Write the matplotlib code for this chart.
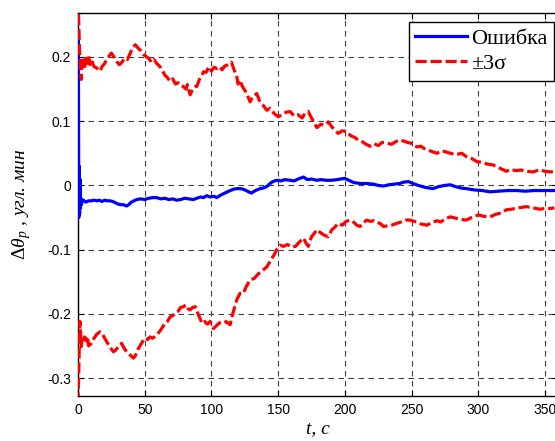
import matplotlib
matplotlib.use('Agg')
from matplotlib import pyplot as plt

# ошибка оценки и границы +-3 sigma
t_up = [0, 0.5, 1.0, 1.5, 2.0, 2.5, 3.0, 4, 5, 6, 7, 8, 9, 10, 12, 14, 16.5, 18, 20, 22, 25, 27, 29, 31,
        33, 35, 37, 39, 41, 43, 45, 47, 49, 51.5, 53, 55, 57, 59, 61.5, 63, 65, 67, 69, 71, 73, 75, 77,
        79, 81, 82, 84, 86, 88, 89, 91, 93, 94, 96, 98, 100, 102, 104, 106, 108, 110, 112.5, 115, 117,
        119, 120, 121.5, 123, 126.5, 129, 131, 134, 136, 138, 141.5, 144, 147, 150, 153, 156, 159, 162,
        165, 168, 170, 172.6, 175, 177, 179, 182, 185, 187.6, 190, 193, 195, 198, 201.4, 204, 207, 210,
        213, 216, 219, 222, 225, 228, 231.5, 235, 238, 241.4, 244, 247, 249, 251.4, 254, 257, 259, 262,
        265, 269, 272.6, 276, 279, 283, 287.6, 291, 295, 299, 303, 307, 311, 315, 318, 321, 324, 328,
        332, 336, 341, 344, 346.3, 350, 354, 357]
sig_up = [0.30, 0.26, 0.22, 0.197, 0.18, 0.165, 0.19, 0.20, 0.185, 0.198, 0.19, 0.202, 0.188, 0.196,
          0.185, 0.183, 0.178, 0.185, 0.19, 0.198, 0.206, 0.20, 0.193, 0.188, 0.192, 0.198, 0.196, 0.205,
          0.215, 0.219, 0.214, 0.21, 0.204, 0.20, 0.198, 0.192, 0.196, 0.19, 0.185, 0.18, 0.172, 0.168,
          0.162, 0.166, 0.158, 0.16, 0.155, 0.154, 0.15, 0.157, 0.141, 0.15, 0.154, 0.154, 0.165, 0.172,
          0.177, 0.176, 0.185, 0.178, 0.184, 0.182, 0.185, 0.18, 0.186, 0.188, 0.192, 0.18, 0.169, 0.158,
          0.164, 0.155, 0.143, 0.13, 0.138, 0.143, 0.132, 0.127, 0.117, 0.12, 0.112, 0.107, 0.11, 0.114,
          0.115, 0.108, 0.11, 0.105, 0.112, 0.115, 0.105, 0.098, 0.09, 0.095, 0.094, 0.099, 0.092, 0.085,
          0.081, 0.085, 0.084, 0.078, 0.075, 0.071, 0.068, 0.064, 0.061, 0.065, 0.062, 0.067, 0.066,
          0.064, 0.068, 0.071, 0.069, 0.067, 0.066, 0.063, 0.06, 0.061, 0.058, 0.055, 0.053, 0.05, 0.054,
          0.052, 0.05, 0.048, 0.05, 0.045, 0.042, 0.037, 0.036, 0.033, 0.032, 0.028, 0.025, 0.022, 0.025,
          0.023, 0.024, 0.022, 0.021, 0.023, 0.024, 0.022, 0.021, 0.022]

t_lo = [0, 0.5, 1.0, 1.5, 2.0, 2.5, 3, 4, 5, 6, 7, 8, 10, 12, 14, 16.5, 18, 20, 22, 24, 26.5, 28, 30,
        32.7, 35, 37, 39, 41.5, 43, 45, 47, 50, 52, 54, 56, 59, 61, 63, 65, 67, 69, 71.5, 73, 75, 77, 79,
        81, 82.5, 84, 86, 88, 90, 93, 95, 97, 99, 101.5, 104, 106, 109, 111, 114, 116, 119, 121.5, 124,
        126, 129, 132, 135, 138, 141.5, 144, 147, 149, 151.5, 154, 157, 160, 163, 166, 169, 171, 172.6,
        175, 177, 179, 182, 185, 187.6, 190, 193, 195, 198, 201, 204, 207, 209, 211.4, 214, 216.5, 219,
        222, 224, 227, 229, 232, 235, 239, 242, 245.5, 249, 252, 254, 257, 261.5, 265, 269, 272, 275, 279,
        283, 287, 291, 295, 300, 304, 309, 313, 317, 321, 325, 330, 336, 341, 346, 350, 354, 357]
sig_lo = [-0.34, -0.30, -0.25, -0.212, -0.23, -0.251, -0.24, -0.245, -0.236, -0.242, -0.235, -0.25,
          -0.246, -0.238, -0.232, -0.228, -0.23, -0.238, -0.245, -0.252, -0.259, -0.257, -0.252, -0.246,
          -0.255, -0.26, -0.264, -0.269, -0.265, -0.255, -0.248, -0.238, -0.24, -0.236, -0.238, -0.233,
          -0.228, -0.222, -0.215, -0.212, -0.205, -0.202, -0.198, -0.196, -0.19, -0.189, -0.186, -0.192,
          -0.194, -0.19, -0.189, -0.2, -0.215, -0.212, -0.216, -0.212, -0.223, -0.218, -0.214, -0.215,
          -0.212, -0.217, -0.2, -0.178, -0.168, -0.168, -0.158, -0.147, -0.145, -0.138, -0.133, -0.127,
          -0.118, -0.108, -0.1, -0.093, -0.095, -0.092, -0.096, -0.095, -0.088, -0.082, -0.09, -0.095,
          -0.08, -0.075, -0.069, -0.074, -0.078, -0.08, -0.07, -0.064, -0.059, -0.062, -0.056, -0.054,
          -0.058, -0.062, -0.064, -0.058, -0.054, -0.056, -0.055, -0.057, -0.06, -0.064, -0.063, -0.062,
          -0.059, -0.057, -0.054, -0.054, -0.056, -0.057, -0.06, -0.062, -0.058, -0.055, -0.057, -0.052,
          -0.049, -0.051, -0.053, -0.054, -0.05, -0.046, -0.048, -0.049, -0.045, -0.043, -0.038, -0.037,
          -0.035, -0.033, -0.035, -0.037, -0.036, -0.036, -0.035]

t_err = [0, 0.3, 0.6, 0.9, 1.2, 1.5, 1.8, 2.2, 2.6, 3, 4, 6, 8, 10, 12, 14, 16, 18, 20, 22, 24, 26, 28,
         30, 32, 34, 36.5, 38, 40, 42, 44, 47, 50, 53, 56, 59, 62, 65, 68, 71, 74, 77, 80, 83, 86.5, 89,
         92, 94, 96.5, 99, 102, 104, 107, 110, 113, 116.5, 119, 121.5, 124, 127, 130, 133, 136.4, 139,
         142, 144, 146, 149, 152, 155, 159, 162, 165, 169, 172, 175, 179, 182, 186, 190, 194, 197, 200,
         203, 206, 208, 212, 216, 221.4, 225, 229, 233, 237, 241, 244, 247.6, 251, 255, 260, 266, 270,
         275, 279, 283, 287, 291, 297, 303, 309, 315, 322, 329, 335, 342, 348, 354, 357]
err = [0.0, 0.23, -0.05, 0.03, -0.045, 0.01, -0.035, -0.02, -0.03, -0.025, -0.023, -0.026, -0.024,
       -0.024, -0.023, -0.024, -0.023, -0.025, -0.023, -0.024, -0.024, -0.025, -0.027, -0.029, -0.03,
       -0.03, -0.032, -0.03, -0.026, -0.024, -0.022, -0.021, -0.022, -0.02, -0.019, -0.019, -0.021,
       -0.02, -0.022, -0.021, -0.023, -0.022, -0.02, -0.021, -0.022, -0.02, -0.018, -0.019, -0.016,
       -0.018, -0.017, -0.019, -0.015, -0.012, -0.009, -0.006, -0.005, -0.005, -0.006, -0.009, -0.012,
       -0.008, -0.005, -0.004, -0.001, 0.003, 0.006, 0.008, 0.007, 0.009, 0.008, 0.007, 0.01, 0.013,
       0.009, 0.01, 0.008, 0.009, 0.008, 0.008, 0.009, 0.01, 0.011, 0.008, 0.005, 0.004, 0.003, 0.003,
       0.002, 0.0, -0.001, 0.001, 0.002, 0.003, 0.005, 0.006, 0.003, 0.0, -0.003, -0.005, -0.002, 0.0,
       0.001, -0.002, -0.004, -0.005, -0.007, -0.008, -0.01, -0.009, -0.008, -0.008, -0.009, -0.008,
       -0.008, -0.008, -0.008]

x_ticks = [0, 50, 100, 150, 200, 250, 300, 350]
y_ticks = [-0.3, -0.2, -0.1, 0, 0.1, 0.2]
y_tick_labels = ['-0.3', '-0.2', '-0.1', '0', '0.1', '0.2']

plt.rcParams['mathtext.fontset'] = 'custom'
plt.rcParams['mathtext.rm'] = 'Liberation Serif'
plt.rcParams['mathtext.it'] = 'Liberation Serif:italic'

fig = plt.figure(figsize=(5.55, 4.41), dpi=100)
ax = fig.add_axes([0.1405, 0.102, 0.8655, 0.8685])

ax.plot(t_err, err, color='#0000ff', lw=2.3, label='Ошибка', zorder=3)
ax.plot(t_up, sig_up, color='#ff0000', lw=2.3, ls=(0, (3.5, 1.2)), label='±3σ', zorder=3)
ax.plot(t_lo, sig_lo, color='#ff0000', lw=2.3, ls=(0, (3.5, 1.2)), zorder=3)

ax.set_xlim(0, 360)
ax.set_ylim(-0.328, 0.2685)
ax.set_xticks(x_ticks)
ax.set_yticks(y_ticks)
ax.set_yticklabels(y_tick_labels)
ax.grid(True, color='0.25', ls=(0, (5, 4)), lw=0.8)
ax.tick_params(direction='in', top=True, right=True, length=4, labelsize=10, pad=5)
for lab in ax.get_xticklabels() + ax.get_yticklabels():
    lab.set_family('Liberation Sans')
for sp in ax.spines.values():
    sp.set_linewidth(1.0)

ax.set_xlabel('t, с', family='Liberation Serif', style='italic', fontsize=14, labelpad=2)
ax.set_ylabel(r'$\mathit{\Delta\theta_p}$ , угл. мин', family='Liberation Serif',
              style='italic', fontsize=14, labelpad=10)

leg = ax.legend(loc='upper right', bbox_to_anchor=(554 / 555, 1 - 22 / 441),
                bbox_transform=fig.transFigure, prop={'family': 'Liberation Serif', 'size': 16},
                fancybox=False, framealpha=1, edgecolor='k', borderpad=0.3, labelspacing=0.2,
                handlelength=2.3, handletextpad=0.2, borderaxespad=0)
leg.get_frame().set_linewidth(1.0)

fig.savefig('out.png', dpi=100)
